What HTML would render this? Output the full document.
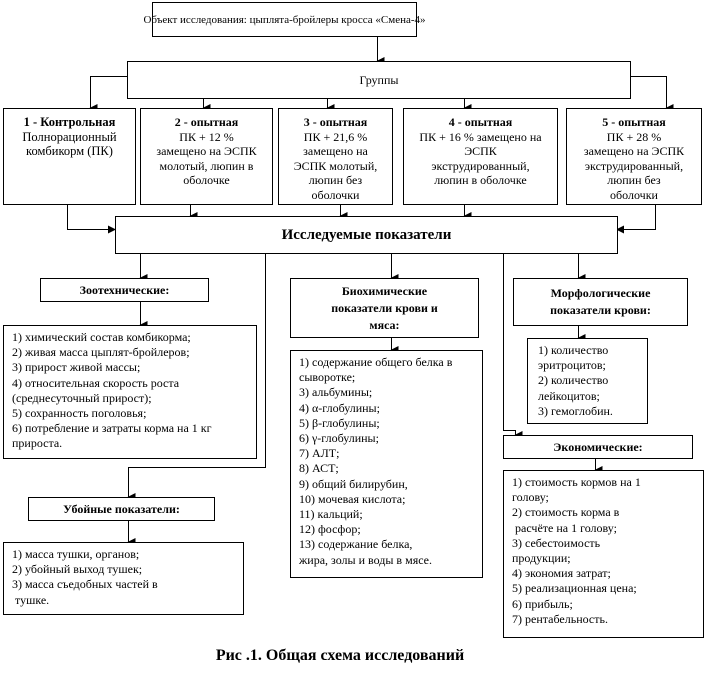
<!DOCTYPE html>
<html><head><meta charset="utf-8"><style>
body{margin:0;width:707px;height:675px;background:#fff;position:relative;font-family:"Liberation Serif",serif;font-size:12px;color:#000;overflow:hidden}
.b{position:absolute;border:1px solid #000;box-sizing:border-box;background:#fff}
.c{text-align:center;line-height:14.5px}
.l{line-height:15.2px;padding:4px 0 0 8px;white-space:nowrap}
svg{position:absolute;left:0;top:0}
b{font-weight:bold}
</style></head><body>
<svg width="707" height="675">
<defs><marker id="a" markerWidth="8" markerHeight="8" refX="4" refY="7" orient="auto" markerUnits="userSpaceOnUse"><path d="M0,0 L8,0 L4,8 z" fill="#000" transform="rotate(0)"/></marker>
<marker id="r" markerWidth="8" markerHeight="8" refX="7" refY="4" orient="0" markerUnits="userSpaceOnUse"><path d="M0,0 L8,4 L0,8 z" fill="#000"/></marker>
<marker id="lf" markerWidth="8" markerHeight="8" refX="1" refY="4" orient="0" markerUnits="userSpaceOnUse"><path d="M8,0 L0,4 L8,8 z" fill="#000"/></marker></defs>
<g stroke="#000" stroke-width="1" fill="none">
<path d="M377.5,36 V61" marker-end="url(#a)"/>
<path d="M127,76.5 H90.5 V108" marker-end="url(#a)"/>
<path d="M630,76.5 H666.5 V108" marker-end="url(#a)"/>
<path d="M203.5,98 V108" marker-end="url(#a)"/>
<path d="M327.5,98 V108" marker-end="url(#a)"/>
<path d="M464.5,98 V108" marker-end="url(#a)"/>
<path d="M190.5,204 V216" marker-end="url(#a)"/>
<path d="M340.5,204 V216" marker-end="url(#a)"/>
<path d="M464.5,204 V216" marker-end="url(#a)"/>
<path d="M67.5,204 V229.5 H115" marker-end="url(#r)"/>
<path d="M655.5,204 V229.5 H617" marker-end="url(#lf)"/>
<path d="M140.5,253 V278" marker-end="url(#a)"/>
<path d="M140.5,301 V325" marker-end="url(#a)"/>
<path d="M265.5,253 V467.5 H128.5 V497" marker-end="url(#a)"/>
<path d="M128.5,520 V542" marker-end="url(#a)"/>
<path d="M391.5,253 V278" marker-end="url(#a)"/>
<path d="M391.5,337 V350" marker-end="url(#a)"/>
<path d="M503.5,253 V430.5 H515.5 V435" marker-end="url(#a)"/>
<path d="M578.5,253 V278" marker-end="url(#a)"/>
<path d="M578.5,325 V338" marker-end="url(#a)"/>
<path d="M595.5,458 V470" marker-end="url(#a)"/>
</g></svg>
<div class="b" style="left:152px;top:2px;width:265px;height:35px;display:flex;justify-content:center;align-items:center;white-space:nowrap;font-size:11px"><span>Объект исследования: цыплята-бройлеры кросса «Смена-4»</span></div>
<div class="b c" style="left:127px;top:61px;width:504px;height:38px;line-height:36px">Группы</div>
<div class="b c" style="left:3px;top:108px;width:133px;height:97px;padding-top:6px;font-size:12.5px"><b>1 - Контрольная</b><br>Полнорационный<br>комбикорм (ПК)</div>
<div class="b c" style="left:140px;top:108px;width:133px;height:97px;padding-top:6px"><b>2 - опытная</b><br>ПК + 12 %<br>замещено на ЭСПК<br>молотый, люпин в<br>оболочке</div>
<div class="b c" style="left:278px;top:108px;width:115px;height:97px;padding-top:6px"><b>3 - опытная</b><br>ПК + 21,6 %<br>замещено на<br>ЭСПК молотый,<br>люпин без<br>оболочки</div>
<div class="b c" style="left:403px;top:108px;width:155px;height:97px;padding-top:6px"><b>4 - опытная</b><br>ПК + 16 % замещено на<br>ЭСПК<br>экструдированный,<br>люпин в оболочке</div>
<div class="b c" style="left:566px;top:108px;width:136px;height:97px;padding-top:6px"><b>5 - опытная</b><br>ПК + 28 %<br>замещено на ЭСПК<br>экструдированный,<br>люпин без<br>оболочки</div>
<div class="b c" style="left:115px;top:216px;width:503px;height:38px;line-height:36px;font-size:15px"><b>Исследуемые показатели</b></div>
<div class="b c" style="left:40px;top:278px;width:169px;height:24px;line-height:22px"><b>Зоотехнические:</b></div>
<div class="b l" style="left:3px;top:325px;width:254px;height:134px">1) химический состав комбикорма;<br>2) живая масса цыплят-бройлеров;<br>3) прирост живой массы;<br>4) относительная скорость роста<br>(среднесуточный прирост);<br>5) сохранность поголовья;<br>6) потребление и затраты корма на 1 кг<br>прироста.</div>
<div class="b c" style="left:28px;top:497px;width:187px;height:24px;line-height:22px"><b>Убойные показатели:</b></div>
<div class="b l" style="left:3px;top:542px;width:241px;height:73px">1) масса тушки, органов;<br>2) убойный выход тушек;<br>3) масса съедобных частей в<br>&nbsp;тушке.</div>
<div class="b c" style="left:290px;top:278px;width:189px;height:60px;line-height:17px;padding-top:4px"><b>Биохимические<br>показатели крови и<br>мяса:</b></div>
<div class="b l" style="left:290px;top:350px;width:193px;height:228px">1) содержание общего белка в<br>сыворотке;<br>3) альбумины;<br>4) α-глобулины;<br>5) β-глобулины;<br>6) γ-глобулины;<br>7) АЛТ;<br>8) АСТ;<br>9) общий билирубин,<br>10) мочевая кислота;<br>11) кальций;<br>12) фосфор;<br>13) содержание белка,<br>жира, золы и воды в мясе.</div>
<div class="b c" style="left:513px;top:278px;width:175px;height:48px;line-height:17px;padding-top:6px"><b>Морфологические<br>показатели крови:</b></div>
<div class="b l" style="left:527px;top:338px;width:121px;height:86px;padding-left:10px">1) количество<br>эритроцитов;<br>2) количество<br>лейкоцитов;<br>3) гемоглобин.</div>
<div class="b c" style="left:503px;top:435px;width:190px;height:24px;line-height:22px"><b>Экономические:</b></div>
<div class="b l" style="left:503px;top:470px;width:201px;height:168px">1) стоимость кормов на 1<br>голову;<br>2) стоимость корма в<br>&nbsp;расчёте на 1 голову;<br>3) себестоимость<br>продукции;<br>4) экономия затрат;<br>5) реализационная цена;<br>6) прибыль;<br>7) рентабельность.</div>
<div style="position:absolute;left:0;width:680px;top:647px;text-align:center;font-size:16px;font-weight:bold">Рис .1. Общая схема исследований</div>
</body></html>
